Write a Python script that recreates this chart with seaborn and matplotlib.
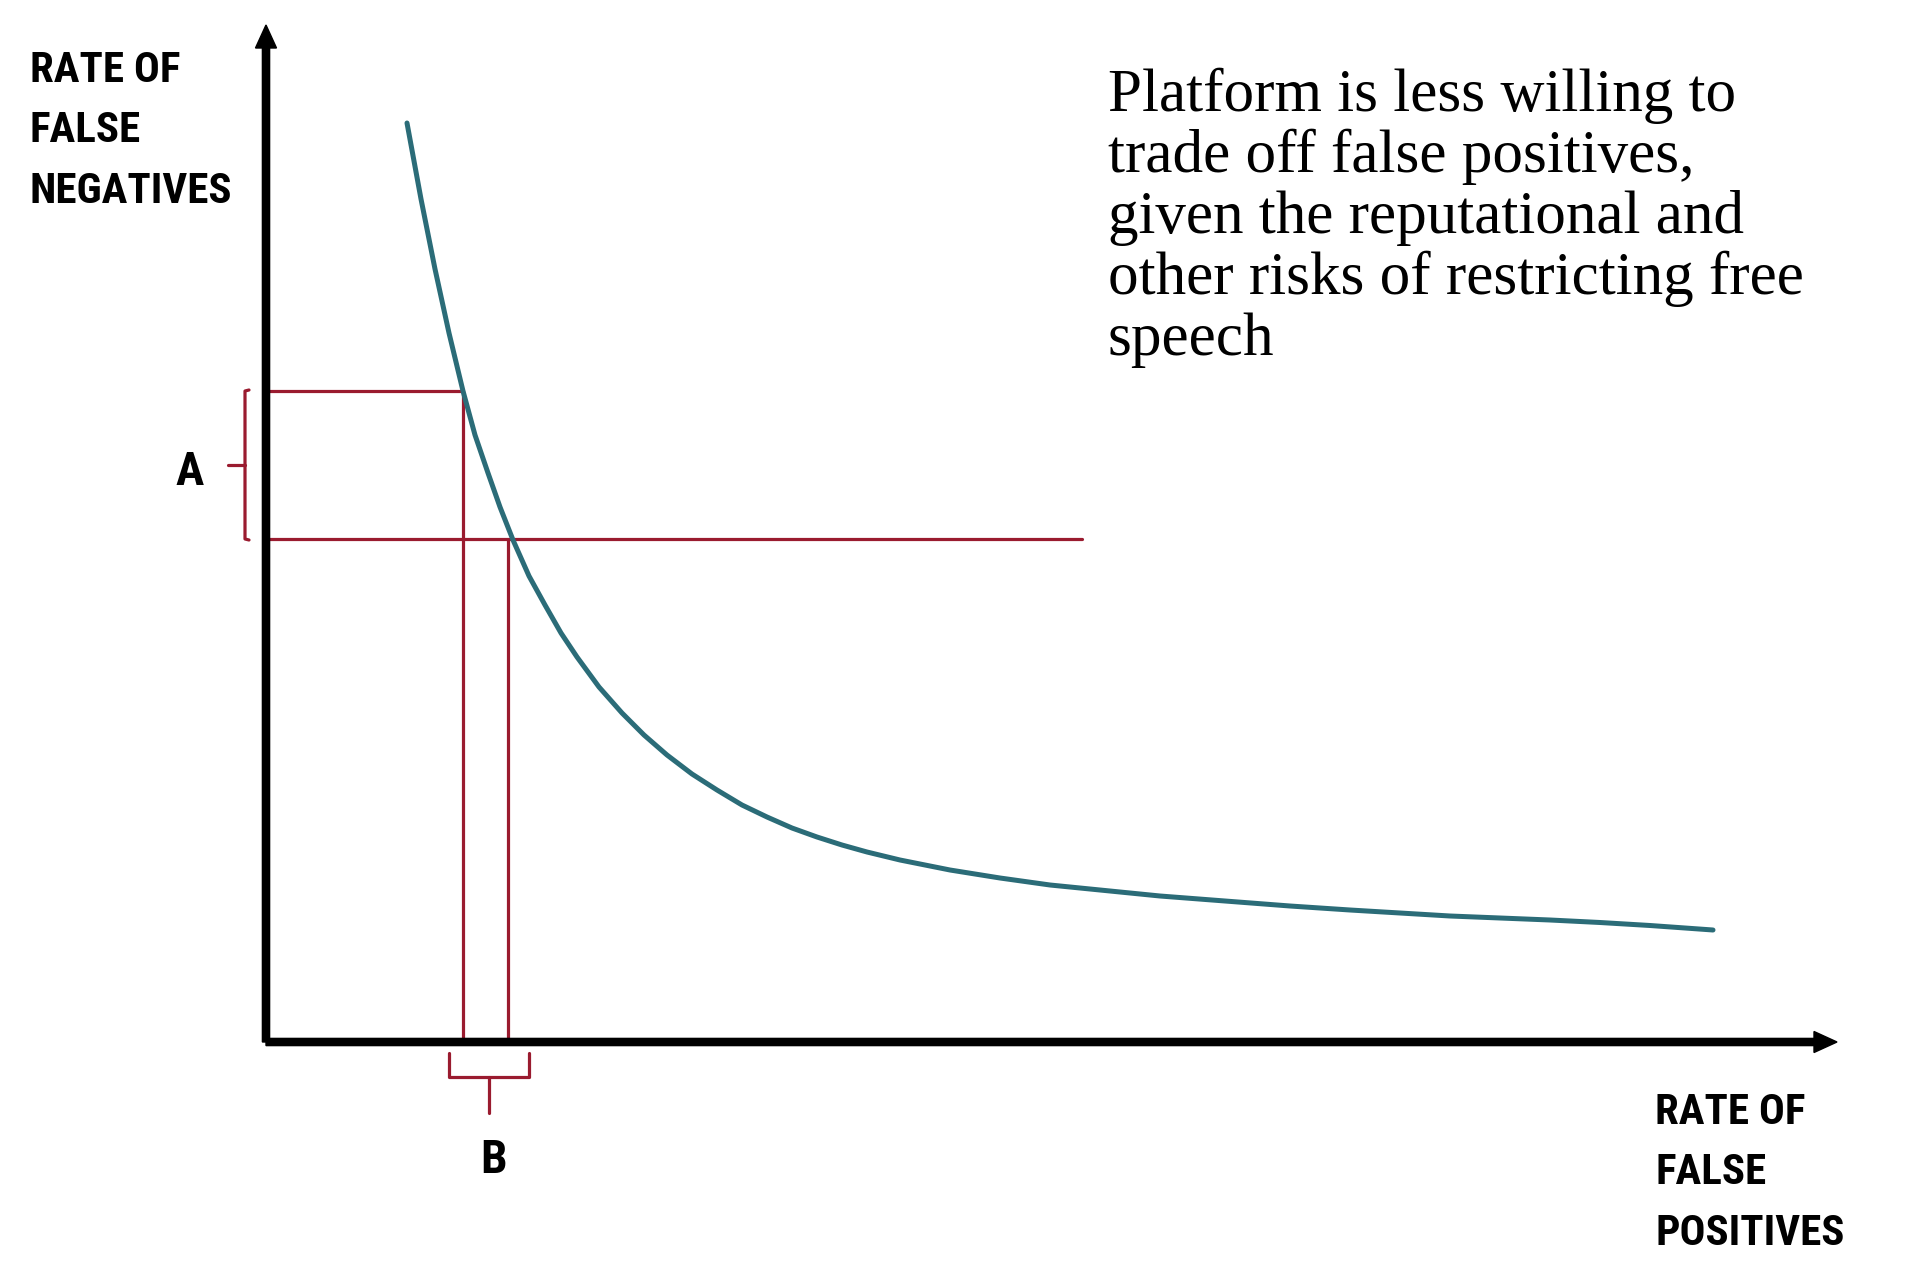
import matplotlib
matplotlib.use("Agg")
import matplotlib.pyplot as plt
from matplotlib.font_manager import FontProperties, findfont
import seaborn as sns
import pandas as pd

# ---- data (chart units: 1 unit = 10 px from the axis origin) ----
curve_x = [14.1, 15.5, 16.9, 18.3, 19.7, 20.9, 22.2, 23.4, 24.7, 26.3, 27.9, 29.5, 31.1,
           33.3, 35.6, 37.8, 40.1, 42.6, 45.1, 47.6, 50.1, 52.6, 55.1, 57.6, 60.1, 63.4,
           68.4, 73.4, 78.4, 83.4, 89.4, 95.9, 102.4, 108.4, 118.4, 128.4, 133.4, 138.4,
           144.7]
curve_y = [91.9, 84.3, 77.3, 70.9, 65.1, 60.7, 56.9, 53.5, 50.2, 46.6, 43.7, 40.9, 38.5,
           35.5, 32.9, 30.7, 28.7, 26.8, 25.2, 23.7, 22.5, 21.4, 20.5, 19.7, 19.0, 18.2,
           17.2, 16.4, 15.7, 15.2, 14.6, 14.1, 13.6, 13.2, 12.6, 12.2, 11.95, 11.65,
           11.2]

# reference levels on the tradeoff curve
level_high_fn = 65.1   # upper false-negative level
level_low_fn = 50.3    # lower false-negative level
level_low_fp = 19.7    # false-positive rate at the upper level
level_high_fp = 24.2   # false-positive rate at the lower level
hline_end = 81.6

x_axis_len = 157.1
y_axis_len = 101.7

y_label_lines = ["RATE OF", "FALSE", "NEGATIVES"]
x_label_lines = ["RATE OF", "FALSE", "POSITIVES"]
note_lines = ["Platform is less willing to",
              "trade off false positives,",
              "given the reputational and",
              "other risks of restricting free",
              "speech"]
label_a = "A"
label_b = "B"

TEAL = "#2B6C78"
RED = "#9A1B2F"

sns.set_theme(style="white")


def try_font(need=None, **kw):
    fp = FontProperties(**kw)
    try:
        path = findfont(fp, fallback_to_default=False)
    except Exception:
        return None
    if need is not None and need.lower() not in path.lower():
        return None
    return fp


label_fp = None
label_size = 31
for cand in [dict(family="Roboto Condensed", weight="bold"),
             dict(family="Liberation Sans Narrow", weight="bold"),
             dict(need="condensed", family="DejaVu Sans", weight="bold", stretch="condensed"),
             dict(need="condensed", family="Roboto", weight="bold", stretch="condensed"),
             dict(need="condensed", family="Open Sans", weight="bold", stretch="condensed")]:
    label_fp = try_font(**cand)
    if label_fp is not None:
        break
if label_fp is None:
    label_fp = try_font(family="Roboto", weight="bold") or FontProperties(family="DejaVu Sans", weight="bold")
    label_size = 27

serif = "Liberation Serif"
if try_font(family="Liberation Serif") is None:
    serif = "DejaVu Serif"

W, H = 1920, 1288
fig = plt.figure(figsize=(W / 100, H / 100), dpi=100)
ax = fig.add_axes([0, 0, 1, 1])
ox, oy = 266, 1042
ax.set_xlim(-ox / 10, (W - ox) / 10)
ax.set_ylim((oy - H) / 10, oy / 10)
ax.axis("off")

# axes with arrows
ax.arrow(0, 0, x_axis_len, 0, width=0.72, head_width=2.1, head_length=2.3,
         length_includes_head=True, color="black", zorder=5)
ax.arrow(0, 0, 0, y_axis_len, width=0.72, head_width=2.1, head_length=2.3,
         length_includes_head=True, color="black", zorder=5)

# red guide lines
lw_red = 2.3
ax.plot([0, level_low_fp], [level_high_fn, level_high_fn], color=RED, lw=lw_red)
ax.plot([0, hline_end], [level_low_fn, level_low_fn], color=RED, lw=lw_red)
ax.plot([level_low_fp, level_low_fp], [0, level_high_fn], color=RED, lw=lw_red)
ax.plot([level_high_fp, level_high_fp], [0, level_low_fn], color=RED, lw=lw_red)

# curve
df = pd.DataFrame({"fp": curve_x, "fn": curve_y})
sns.lineplot(data=df, x="fp", y="fn", sort=False, color=TEAL, lw=3.6, ax=ax, zorder=4,
             solid_joinstyle="round", solid_capstyle="round")

# bracket A (vertical brace left of y axis)
bx = -2.1
mid_a = (level_high_fn + level_low_fn) / 2
ax.plot([bx + 0.4, bx, bx, bx + 0.4],
        [level_high_fn + 0.1, level_high_fn, level_low_fn, level_low_fn - 0.1],
        color=RED, lw=lw_red, solid_joinstyle="round")
ax.plot([bx - 1.7, bx], [mid_a, mid_a], color=RED, lw=lw_red)
ax.text(-7.6, mid_a - 2.0, label_a, fontproperties=label_fp, fontsize=label_size + 3,
        ha="center", va="baseline", color="black")

# bracket B (horizontal brace under x axis)
bl, br = level_low_fp - 1.4, level_high_fp + 2.1
top_b, bot_b = -1.1, -3.5
mid_b = (bl + br) / 2
ax.plot([bl, bl, br, br], [top_b, bot_b, bot_b, top_b], color=RED, lw=lw_red)
ax.plot([mid_b, mid_b], [bot_b, bot_b - 3.6], color=RED, lw=lw_red)
ax.text(mid_b + 0.5, -13.1, label_b, fontproperties=label_fp, fontsize=label_size + 3,
        ha="center", va="baseline", color="black")

# axis labels
for i, t in enumerate(y_label_lines):
    ax.text(-23.6, 96.0 - 6.05 * i, t, fontproperties=label_fp, fontsize=label_size,
            ha="left", va="baseline", color="black")
for i, t in enumerate(x_label_lines):
    ax.text(138.9, -8.2 - 6.05 * i, t, fontproperties=label_fp, fontsize=label_size,
            ha="left", va="baseline", color="black")

# note
for i, t in enumerate(note_lines):
    ax.text(84.2, 93.1 - 6.1 * i, t, fontsize=44, fontfamily=serif,
            ha="left", va="baseline", color="black")

fig.savefig("out.png", dpi=100, facecolor="white")
